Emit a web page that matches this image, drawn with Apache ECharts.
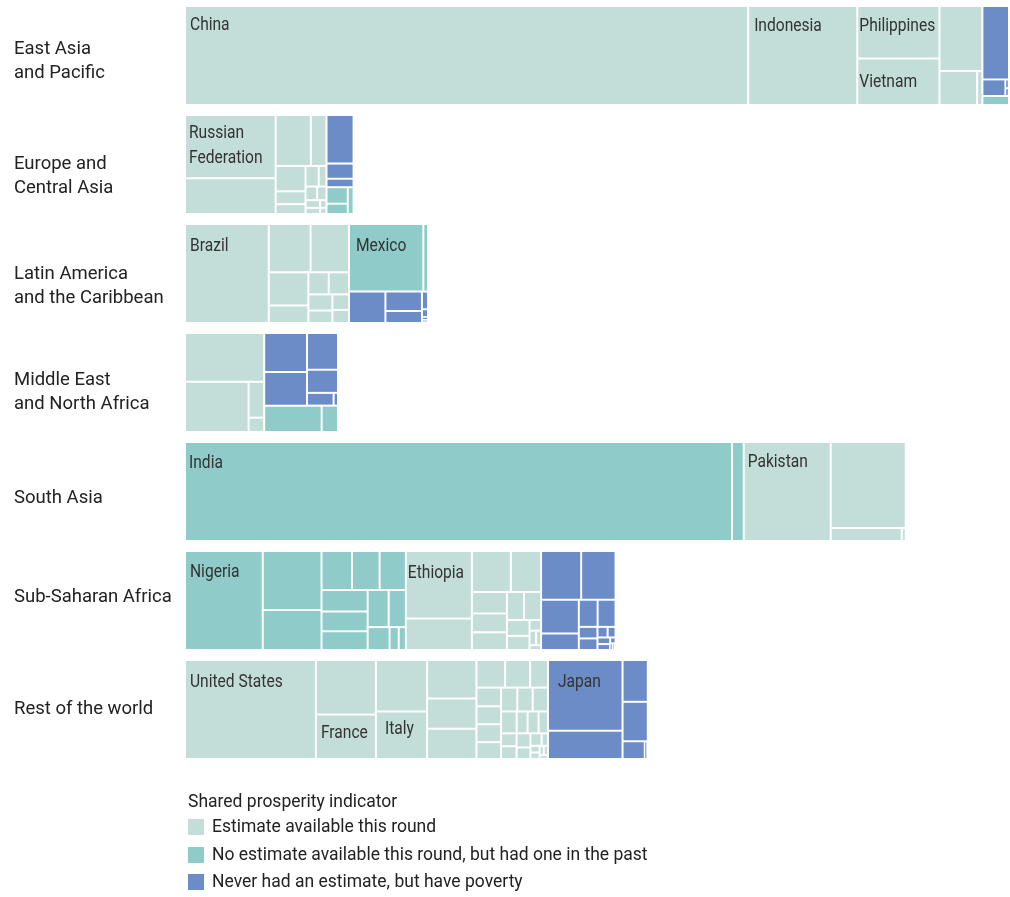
<!DOCTYPE html>
<html>
<head>
<meta charset="utf-8">
<script src="https://cdn.jsdelivr.net/npm/echarts@6/dist/echarts.min.js"></script>
<style>
  html, body { margin: 0; padding: 0; background: #ffffff; }
  #chart { width: 1010px; height: 897px; }
</style>
</head>
<body>
<div id="chart"></div>
<script>
// Population (millions) by country, grouped by region and by shared prosperity indicator status.
const regionNames = [
  'East Asia\nand Pacific',
  'Europe and\nCentral Asia',
  'Latin America\nand the Caribbean',
  'Middle East\nand North Africa',
  'South Asia',
  'Sub-Saharan Africa',
  'Rest of the world'
];
const statusNames = [
  'Estimate available this round',
  'No estimate available this round, but had one in the past',
  'Never had an estimate, but have poverty'
];
const legendTitle = 'Shared prosperity indicator';

// East Asia and Pacific
const eapEstimate = [['China', 1398], ['Indonesia', 271], ['Philippines', 108], ['Vietnam', 96], ['Thailand', 70], ['Malaysia', 32], ['Mongolia', 4.5]];
const eapPast = [['Lao PDR', 6]];
const eapNever = [['Myanmar', 49], ['Papua New Guinea', 9.6], ['Fiji', 0.8], ['Solomon Islands', 0.7]];

// Europe and Central Asia
const ecaEstimate = [['Russian Federation', 144], ['Turkey', 81], ['Ukraine', 45], ['Kazakhstan', 20], ['Romania', 19], ['Belarus', 9.6], ['Bulgaria', 7.4], ['Serbia', 6.8], ['Georgia', 4], ['Armenia', 4], ['Albania', 2.8], ['Moldova', 3.2], ['North Macedonia', 2.25], ['Montenegro', 1.2], ['Kosovo', 1]];
const ecaPast = [['Kyrgyz Republic', 8.8], ['Bosnia and Herzegovina', 5.5], ['Croatia', 3.9]];
const ecaNever = [['Uzbekistan', 33], ['Azerbaijan', 10.3], ['Turkmenistan', 5.75]];

// Latin America and the Caribbean
const lacEstimate = [['Brazil', 208], ['Colombia', 50.5], ['Argentina', 46.5], ['Peru', 33], ['Ecuador', 17.4], ['Bolivia', 11.3], ['Dominican Republic', 11.25], ['Honduras', 9.75], ['Paraguay', 7.5], ['El Salvador', 6.5], ['Costa Rica', 5.4]];
const lacPast = [['Mexico', 126], ['Nicaragua', 8]];
const lacNever = [['Venezuela, RB', 28.7], ['Guatemala', 17.8], ['Haiti', 11], ['Jamaica', 2.7], ['Guyana', 1.2], ['Suriname', 0.5], ['Belize', 0.4]];

// Middle East and North Africa
const mnaEstimate = [['Egypt, Arab Rep.', 97], ['Iran, Islamic Rep.', 80], ['Tunisia', 14], ['West Bank and Gaza', 5.6]];
const mnaPast = [['Iraq', 38], ['Jordan', 10.8]];
const mnaNever = [['Algeria', 42], ['Morocco', 36], ['Yemen, Rep.', 28.5], ['Syrian Arab Republic', 18], ['Libya', 8.5], ['Djibouti', 1.4]];

// South Asia
const sarEstimate = [['Pakistan', 216], ['Bangladesh', 162], ['Sri Lanka', 23], ['Bhutan', 1.3]];
const sarPast = [['India', 1358], ['Afghanistan', 29]];
const sarNever = [];

// Sub-Saharan Africa
const ssaEstimate = [['Ethiopia', 112], ['South Africa', 52], ['Uganda', 40], ['Angola', 31], ['Zambia', 19], ['Senegal', 16.5], ['Chad', 15.5], ['Zimbabwe', 12], ['Rwanda', 12], ['Burundi', 9], ['Togo', 8], ['Sierra Leone', 3.1], ['Liberia', 1.8], ['Namibia', 2.4], ['Botswana', 1.4]];
const ssaPast = [['Nigeria', 193], ['Congo, Dem. Rep.', 87], ['Tanzania', 59], ['Mozambique', 29.7], ['Ghana', 27], ['Madagascar', 25.6], ['Cameroon', 25], ['Niger', 21.6], ['Burkina Faso', 19.6], ["Cote d'Ivoire", 22.8], ['Mali', 16], ['Malawi', 12.6], ['Guinea-Bissau', 5.25], ['Mauritania', 4.1]];
const ssaNever = [['Sudan', 49], ['Kenya', 42], ['Somalia', 32], ['South Sudan', 15.6], ['Guinea', 12.2], ['Benin', 12.8], ['Eritrea', 5.4], ['Central African Republic', 5.4], ['Congo, Rep.', 2.7], ['Lesotho', 2.1], ['Gambia, The', 2.1], ['Gabon', 1.9], ['Eswatini', 0.8], ['Comoros', 0.5], ['Cabo Verde', 0.4]];

// Rest of the world
const rowEstimate = [['United States', 325], ['Germany', 82], ['France', 67], ['United Kingdom', 66], ['Italy', 61], ['Spain', 47.5], ['Canada', 37.5], ['Poland', 37.5], ['Chile', 19.8], ['Netherlands', 17.3], ['Belgium', 12.4], ['Czech Republic', 11.55], ['Greece', 11.05], ['Portugal', 11.05], ['Sweden', 10.4], ['Hungary', 9.75], ['Austria', 9.2], ['Switzerland', 9.2], ['Denmark', 8.6], ['Finland', 6], ['Slovak Republic', 6], ['Norway', 5.2], ['Ireland', 5], ['Uruguay', 5], ['Panama', 4], ['Lithuania', 4.9], ['Slovenia', 3.5], ['Latvia', 2], ['Estonia', 1.5], ['Cyprus', 1.5], ['Luxembourg', 1], ['Malta', 1], ['Iceland', 0.8]];
const rowPast = [];
const rowNever = [['Japan', 132], ['Korea, Rep.', 53], ['Australia', 26.5], ['Saudi Arabia', 25], ['Israel', 9.9], ['Kuwait', 1.35]];

// Countries whose names are printed inside their cells: [text, left inset, cap-top inset]
const cellLabels = {
  'China': ['China', 4, 9],
  'Indonesia': ['Indonesia', 5, 10],
  'Philippines': ['Philippines', 1, 10],
  'Vietnam': ['Vietnam', 1, 14],
  'Russian Federation': ['Russian\nFederation', 3, 8],
  'Brazil': ['Brazil', 4, 12],
  'Mexico': ['Mexico', 6, 12],
  'India': ['India', 3, 11],
  'Pakistan': ['Pakistan', 3, 10],
  'Nigeria': ['Nigeria', 4, 11],
  'Ethiopia': ['Ethiopia', 1, 12],
  'United States': ['United States', 4, 12],
  'France': ['France', 4, 9],
  'Italy': ['Italy', 8, 8],
  'Japan': ['Japan', 9, 12]
};

const regionLists = [
  [eapEstimate, eapPast, eapNever],
  [ecaEstimate, ecaPast, ecaNever],
  [lacEstimate, lacPast, lacNever],
  [mnaEstimate, mnaPast, mnaNever],
  [sarEstimate, sarPast, sarNever],
  [ssaEstimate, ssaPast, ssaNever],
  [rowEstimate, rowPast, rowNever]
];

// ---- styling / layout ----
const statusColors = ['#c3ded8', '#8fcbc8', '#6c8cc7'];
const textFont = 'Roboto, "Liberation Sans", sans-serif';
const plotLeft = 186;
const plotWidth = 822;
const rowTop = 7;
const rowStep = 109;
const rowHeight = 97;
const gap = 2;
const golden = 0.5 * (1 + Math.sqrt(5));
// preferred cell proportions used by the squarified layout of each row
const rowSquareRatio = [golden, golden, golden, 1, golden, golden, 1.5];

const sum = arr => arr.reduce((s, d) => s + d[1], 0);
const regionTotals = regionLists.map(groups => groups.reduce((s, g) => s + sum(g), 0));
const maxTotal = Math.max(...regionTotals);

function leafNodes(list, color) {
  return list.map(([name, value]) => ({ name, value, itemStyle: { color } }));
}

const seriesBoxes = regionLists.map((groups, i) => ({
  left: plotLeft,
  top: rowTop + rowStep * i,
  // row width is proportional to the region's total population (area including gaps)
  width: regionTotals[i] / maxTotal * (plotWidth + gap) - gap,
  height: rowHeight
}));

const series = regionLists.map((groups, i) => ({
  type: 'treemap',
  left: seriesBoxes[i].left,
  top: seriesBoxes[i].top,
  width: seriesBoxes[i].width,
  height: seriesBoxes[i].height,
  roam: false,
  nodeClick: false,
  silent: true,
  animation: false,
  breadcrumb: { show: false },
  visibleMin: 0,
  childrenVisibleMin: 0,
  squareRatio: rowSquareRatio[i],
  label: { show: false },
  upperLabel: { show: false },
  itemStyle: { borderWidth: 0, gapWidth: gap, borderColor: '#ffffff' },
  levels: [
    { itemStyle: { borderWidth: 0, gapWidth: gap, borderColor: '#ffffff' } },
    { itemStyle: { borderWidth: 0, gapWidth: gap, borderColor: '#ffffff' } },
    { itemStyle: { borderWidth: 0, gapWidth: 0 } }
  ],
  emphasis: { disabled: true },
  data: groups
    .map((list, k) => ({
      name: statusNames[k],
      itemStyle: { color: statusColors[k] },
      children: leafNodes(list, statusColors[k])
    }))
    .filter(n => n.children.length > 0)
}));

// region names on the left, beside each row
const regionLabelY = [61, 176, 286, 392, 498, 597, 709];
const graphics = regionNames.map((name, i) => ({
  type: 'text',
  left: 14,
  top: regionLabelY[i] - (name.includes('\n') ? 24 : 12),
  style: {
    text: name,
    fill: '#222222',
    font: '18.5px ' + textFont,
    lineHeight: 24,
    verticalAlign: 'top'
  },
  silent: true
}));

// legend
graphics.push({
  type: 'text',
  left: 188,
  top: 791,
  style: { text: legendTitle, fill: '#222222', font: '17.5px ' + textFont, lineHeight: 23 },
  silent: true
});
const legendTop = [819, 847, 874];
statusNames.forEach((name, k) => {
  graphics.push({
    type: 'rect',
    left: 188,
    top: legendTop[k],
    shape: { width: 16, height: 16 },
    style: { fill: statusColors[k] },
    silent: true
  });
  graphics.push({
    type: 'text',
    left: 212,
    top: legendTop[k] - 3,
    style: { text: name, fill: '#222222', font: '17.5px ' + textFont, lineHeight: 23 },
    silent: true
  });
});

const chart = echarts.init(document.getElementById('chart'), null, { renderer: 'canvas' });
chart.setOption({
  backgroundColor: '#ffffff',
  animation: false,
  tooltip: { show: false },
  series,
  graphic: graphics
});

// Country names: placed at the top-left corner of each cell as laid out by the treemap,
// drawn in a horizontally condensed face.
const cellFontSize = 19;
const cellLineHeight = 25.3;
const capHeight = 0.711 * cellFontSize;
const labelNudge = 2.5;
const ecModel = chart.getModel();
series.forEach((s, i) => {
  const seriesModel = ecModel.getSeriesByIndex(i);
  const tree = seriesModel.getData().tree;
  tree.eachNode(node => {
    if (node.children && node.children.length) return;
    const spec = cellLabels[node.name];
    if (!spec) return;
    let x = 0, y = 0;
    for (let n = node; n; n = n.parentNode) {
      const l = n.getLayout();
      if (l) { x += l.x || 0; y += l.y || 0; }
    }
    graphics.push({
      type: 'text',
      x: seriesBoxes[i].left + x + spec[1],
      y: seriesBoxes[i].top + y + spec[2] - (cellLineHeight / 2 - capHeight / 2) + labelNudge,
      scaleX: 0.82,
      z: 100,
      style: {
        text: spec[0],
        fill: '#333333',
        font: cellFontSize + 'px ' + textFont,
        lineHeight: cellLineHeight,
        align: 'left',
        verticalAlign: 'top'
      },
      silent: true
    });
  });
});
chart.setOption({ graphic: graphics });
</script>
</body>
</html>
